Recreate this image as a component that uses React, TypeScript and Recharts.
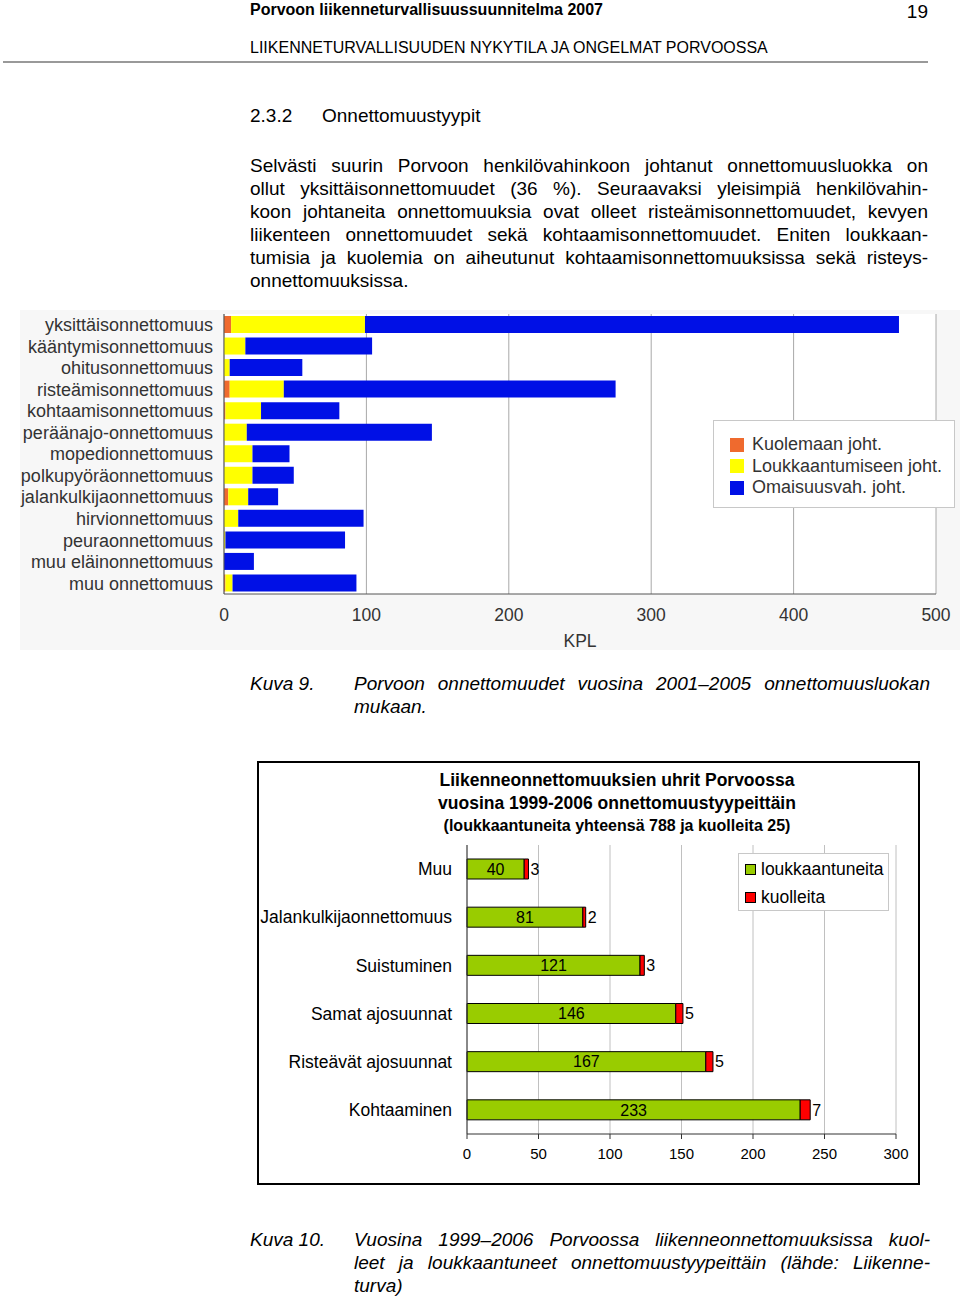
import { BarChart, Bar, XAxis, YAxis, CartesianGrid, Legend, LabelList } from 'recharts'

const FONT = '"Liberation Sans", Arial, sans-serif'

// Kuva 9 – onnettomuusluokat 2001–2005
const LUOKAT = [
  'yksittäisonnettomuus',
  'kääntymisonnettomuus',
  'ohitusonnettomuus',
  'risteämisonnettomuus',
  'kohtaamisonnettomuus',
  'peräänajo-onnettomuus',
  'mopedionnettomuus',
  'polkupyöräonnettomuus',
  'jalankulkijaonnettomuus',
  'hirvionnettomuus',
  'peuraonnettomuus',
  'muu eläinonnettomuus',
  'muu onnettomuus',
]
const KUOLEMAAN = [5, 0, 0, 4, 1, 0, 0, 0, 3, 0, 0, 0, 1]
const LOUKKAANTUMISEEN = [94, 15, 4, 38, 25, 16, 20, 20, 14, 10, 1, 0, 5]
const OMAISUUSVAH = [375, 89, 51, 233, 55, 130, 26, 29, 21, 88, 84, 21, 87]
const KPL_TICKS = [0, 100, 200, 300, 400, 500]

const SARJAT1 = [
  { key: 'kuolemaan', name: 'Kuolemaan joht.', color: '#ef6a2e' },
  { key: 'loukkaantumiseen', name: 'Loukkaantumiseen joht.', color: '#ffff00' },
  { key: 'omaisuusvah', name: 'Omaisuusvah. joht.', color: '#0010e6' },
]

// Kuva 10 – uhrit 1999–2006
const TYYPIT = [
  'Muu',
  'Jalankulkijaonnettomuus',
  'Suistuminen',
  'Samat ajosuunnat',
  'Risteävät ajosuunnat',
  'Kohtaaminen',
]
const LOUKKAANTUNEITA = [40, 81, 121, 146, 167, 233]
const KUOLLEITA = [3, 2, 3, 5, 5, 7]
const UHRI_TICKS = [0, 50, 100, 150, 200, 250, 300]

const SARJAT2 = [
  { key: 'loukkaantuneita', name: 'loukkaantuneita', color: '#99cc00' },
  { key: 'kuolleita', name: 'kuolleita', color: '#ff0000' },
]

const rivit1 = LUOKAT.map((luokka, i) => ({
  luokka,
  kuolemaan: KUOLEMAAN[i],
  loukkaantumiseen: LOUKKAANTUMISEEN[i],
  omaisuusvah: OMAISUUSVAH[i],
}))

const rivit2 = TYYPIT.map((tyyppi, i) => ({
  tyyppi,
  loukkaantuneita: LOUKKAANTUNEITA[i],
  kuolleita: KUOLLEITA[i],
}))

function Rivi({ x, y, w, children, style }: any) {
  return (
    <div
      style={{
        position: 'absolute',
        left: x,
        top: y - 12,
        width: w,
        height: 24,
        lineHeight: '24px',
        fontSize: 19,
        ...style,
      }}
    >
      {children}
    </div>
  )
}

const JUSTIFY = { textAlign: 'justify' as const, textAlignLast: 'justify' as const }

function Legend1() {
  return (
    <div
      style={{
        width: 242,
        height: 88,
        boxSizing: 'border-box',
        background: '#fff',
        border: '1px solid #c8c8c8',
        padding: '13px 0 0 16px',
        fontFamily: FONT,
        fontSize: 18,
        color: '#333',
      }}
    >
      {SARJAT1.map((s) => (
        <div key={s.key} style={{ display: 'flex', alignItems: 'center', height: 21.5 }}>
          <span style={{ width: 14, height: 14, background: s.color, marginRight: 8 }} />
          {s.name}
        </div>
      ))}
    </div>
  )
}

function Legend2() {
  return (
    <div
      style={{
        width: 151,
        height: 58,
        boxSizing: 'border-box',
        background: '#fff',
        border: '1px solid #c8c8c8',
        padding: '1px 0 0 6px',
        fontFamily: FONT,
        fontSize: 17.5,
        color: '#000',
      }}
    >
      {SARJAT2.map((s) => (
        <div key={s.key} style={{ display: 'flex', alignItems: 'center', height: 28 }}>
          <span
            style={{
              width: 9,
              height: 9,
              background: s.color,
              border: '1px solid #000',
              marginRight: 5,
            }}
          />
          {s.name}
        </div>
      ))}
    </div>
  )
}

function OnnettomuusluokatChart() {
  return (
    <div style={{ position: 'absolute', left: 20, top: 310, width: 940, height: 340, background: '#f7f7f7' }}>
      <BarChart
        width={940}
        height={340}
        layout="vertical"
        data={rivit1}
        margin={{ top: 4, right: 24, bottom: 0, left: 0 }}
        barSize={17}
        style={{ fontFamily: FONT }}
      >
        <CartesianGrid horizontal={false} stroke="#a8a8a8" fill="#fff" />
        <XAxis
          type="number"
          domain={[0, 500]}
          ticks={KPL_TICKS}
          tickLine={false}
          tickSize={0}
          tickMargin={15}
          axisLine={{ stroke: '#555' }}
          tick={{ fontSize: 17.5, fill: '#333' }}
          height={56}
          label={{ value: 'KPL', position: 'insideBottom', offset: 3, fontSize: 17.5, fill: '#333' }}
        />
        <XAxis
          xAxisId="top"
          orientation="top"
          type="number"
          domain={[0, 500]}
          tick={false}
          tickLine={false}
          height={0}
          axisLine={{ stroke: '#a8a8a8' }}
        />
        <YAxis
          type="category"
          dataKey="luokka"
          width={204}
          interval={0}
          tickLine={false}
          tickSize={0}
          tickMargin={11}
          axisLine={{ stroke: '#555' }}
          tick={{ fontSize: 18, fill: '#333' }}
        />
        <Legend
          layout="vertical"
          align="center"
          verticalAlign="middle"
          content={() => <Legend1 />}
          wrapperStyle={{ position: 'absolute', left: 693, top: 110, width: 242 }}
        />
        {SARJAT1.map((s) => (
          <Bar
            key={s.key}
            dataKey={s.key}
            name={s.name}
            stackId="a"
            fill={s.color}
            isAnimationActive={false}
          />
        ))}
      </BarChart>
    </div>
  )
}

function UhritChart() {
  return (
    <div
      style={{
        position: 'absolute',
        left: 257,
        top: 761,
        width: 663,
        height: 424,
        border: '2px solid #000',
        boxSizing: 'border-box',
        background: '#fff',
      }}
    >
      <BarChart
        width={659}
        height={420}
        layout="vertical"
        data={rivit2}
        margin={{ top: 82, right: 22, bottom: 19, left: 0 }}
        barSize={20}
        style={{ fontFamily: FONT }}
      >
        <CartesianGrid horizontal={false} stroke="#c0c0c0" />
        <XAxis
          type="number"
          domain={[0, 300]}
          ticks={UHRI_TICKS}
          tickSize={5}
          tickMargin={9}
          tickLine={{ stroke: '#333' }}
          axisLine={{ stroke: '#333' }}
          tick={{ fontSize: 15, fill: '#000' }}
          height={30}
        />
        <XAxis
          xAxisId="top"
          orientation="top"
          type="number"
          domain={[0, 300]}
          tick={false}
          tickLine={false}
          height={0}
          axisLine={{ stroke: '#999' }}
        />
        <YAxis
          type="category"
          dataKey="tyyppi"
          width={208}
          interval={0}
          tickLine={false}
          tickSize={0}
          tickMargin={15}
          axisLine={{ stroke: '#333' }}
          tick={{ fontSize: 17.5, fill: '#000' }}
        />
        <YAxis
          yAxisId="raja"
          type="number"
          domain={[0, TYYPIT.length]}
          ticks={TYYPIT.map((_, i) => i).concat(TYYPIT.length)}
          tick={false}
          axisLine={false}
          tickSize={5}
          tickLine={{ stroke: '#444' }}
          width={0}
        />
        <Legend
          layout="vertical"
          align="center"
          verticalAlign="middle"
          content={() => <Legend2 />}
          wrapperStyle={{ position: 'absolute', left: 479, top: 90, width: 151 }}
        />
        <Bar
          dataKey="loukkaantuneita"
          name="loukkaantuneita"
          stackId="u"
          fill={SARJAT2[0].color}
          stroke="#000"
          strokeWidth={1}
          isAnimationActive={false}
        >
          <LabelList dataKey="loukkaantuneita" position="center" fontSize={16} fill="#000" />
        </Bar>
        <Bar
          dataKey="kuolleita"
          name="kuolleita"
          stackId="u"
          fill={SARJAT2[1].color}
          stroke="#000"
          strokeWidth={1}
          isAnimationActive={false}
        >
          <LabelList dataKey="kuolleita" position="right" offset={2} fontSize={16} fill="#000" />
        </Bar>
      </BarChart>
    </div>
  )
}

export default function App() {
  return (
    <div
      style={{
        position: 'absolute',
        left: 0,
        top: 0,
        width: 960,
        height: 1297,
        background: '#fff',
        fontFamily: FONT,
        color: '#000',
        overflow: 'hidden',
      }}
    >
      <Rivi x={250} y={10} w={500} style={{ fontSize: 16, fontWeight: 'bold' }}>
        Porvoon liikenneturvallisuussuunnitelma 2007
      </Rivi>
      <Rivi x={880} y={12} w={48} style={{ fontSize: 19, textAlign: 'right' }}>
        19
      </Rivi>
      <Rivi x={250} y={48} w={680} style={{ fontSize: 16 }}>
        LIIKENNETURVALLISUUDEN NYKYTILA JA ONGELMAT PORVOOSSA
      </Rivi>
      <div style={{ position: 'absolute', left: 3, top: 61, width: 925, height: 1.5, background: '#999' }} />

      <Rivi x={250} y={116} w={60}>2.3.2</Rivi>
      <Rivi x={322} y={116} w={400}>Onnettomuustyypit</Rivi>

      <Rivi x={250} y={166} w={678} style={JUSTIFY}>
        Selvästi suurin Porvoon henkilövahinkoon johtanut onnettomuusluokka on
      </Rivi>
      <Rivi x={250} y={189} w={678} style={JUSTIFY}>
        ollut yksittäisonnettomuudet (36 %). Seuraavaksi yleisimpiä henkilövahin-
      </Rivi>
      <Rivi x={250} y={212} w={678} style={JUSTIFY}>
        koon johtaneita onnettomuuksia ovat olleet risteämisonnettomuudet, kevyen
      </Rivi>
      <Rivi x={250} y={235} w={678} style={JUSTIFY}>
        liikenteen onnettomuudet sekä kohtaamisonnettomuudet. Eniten loukkaan-
      </Rivi>
      <Rivi x={250} y={258} w={678} style={JUSTIFY}>
        tumisia ja kuolemia on aiheutunut kohtaamisonnettomuuksissa sekä risteys-
      </Rivi>
      <Rivi x={250} y={281} w={678}>
        onnettomuuksissa.
      </Rivi>

      <OnnettomuusluokatChart />

      <Rivi x={250} y={684} w={100} style={{ fontStyle: 'italic' }}>Kuva 9.</Rivi>
      <Rivi x={354} y={684} w={576} style={{ fontStyle: 'italic', ...JUSTIFY }}>
        Porvoon onnettomuudet vuosina 2001–2005 onnettomuusluokan
      </Rivi>
      <Rivi x={354} y={707} w={576} style={{ fontStyle: 'italic' }}>mukaan.</Rivi>

      <UhritChart />
      <Rivi x={317} y={780} w={600} style={{ fontSize: 17.5, fontWeight: 'bold', textAlign: 'center' }}>
        Liikenneonnettomuuksien uhrit Porvoossa
      </Rivi>
      <Rivi x={317} y={803} w={600} style={{ fontSize: 17.5, fontWeight: 'bold', textAlign: 'center' }}>
        vuosina 1999-2006 onnettomuustyypeittäin
      </Rivi>
      <Rivi x={317} y={826} w={600} style={{ fontSize: 16, fontWeight: 'bold', textAlign: 'center' }}>
        (loukkaantuneita yhteensä 788 ja kuolleita 25)
      </Rivi>

      <Rivi x={250} y={1240} w={100} style={{ fontStyle: 'italic' }}>Kuva 10.</Rivi>
      <Rivi x={354} y={1240} w={576} style={{ fontStyle: 'italic', ...JUSTIFY }}>
        Vuosina 1999–2006 Porvoossa liikenneonnettomuuksissa kuol-
      </Rivi>
      <Rivi x={354} y={1263} w={576} style={{ fontStyle: 'italic', ...JUSTIFY }}>
        leet ja loukkaantuneet onnettomuustyypeittäin (lähde: Liikenne-
      </Rivi>
      <Rivi x={354} y={1286} w={576} style={{ fontStyle: 'italic' }}>turva)</Rivi>
    </div>
  )
}
